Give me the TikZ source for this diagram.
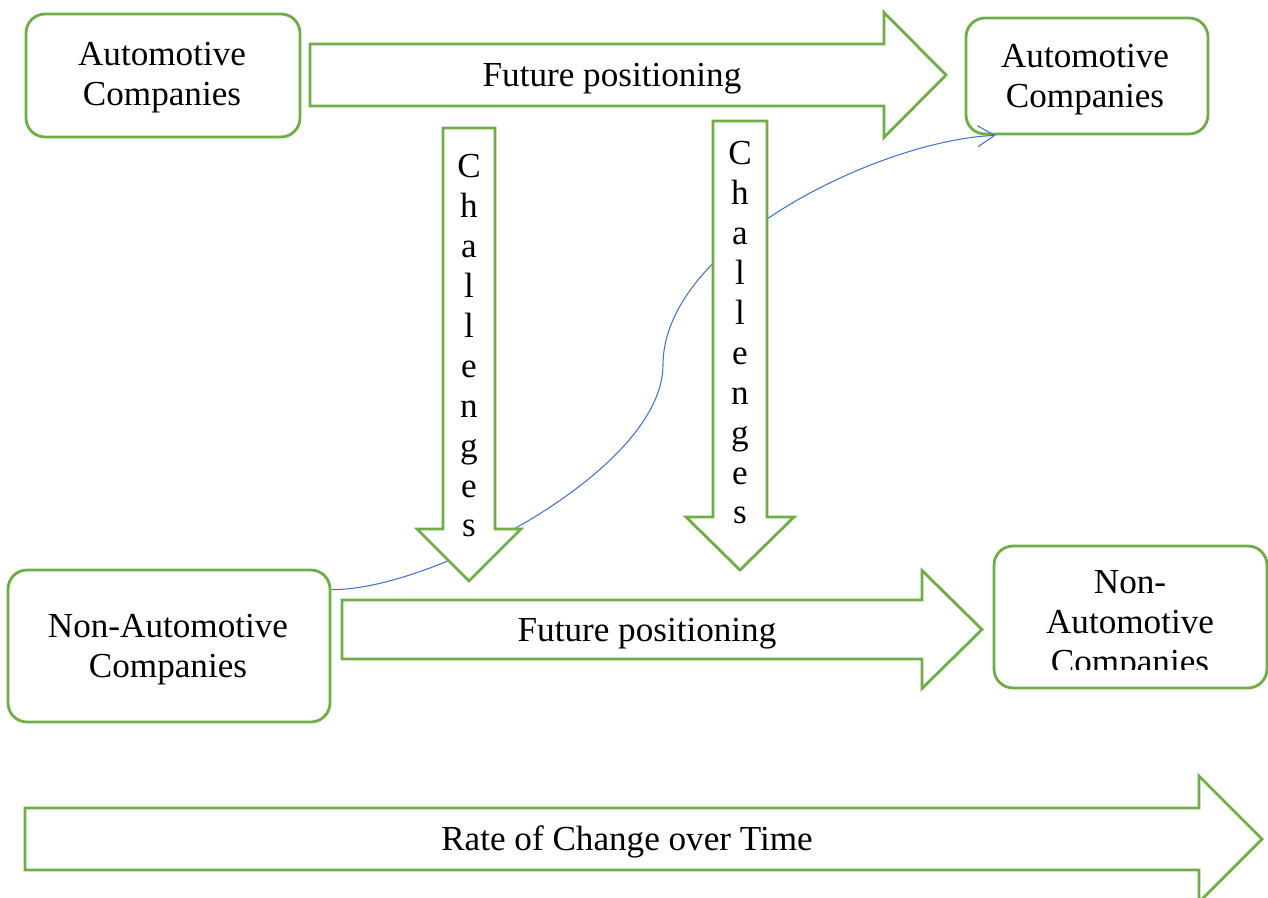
\documentclass[tikz,border=0pt]{standalone}
\usepackage{fontspec}
\setmainfont{Liberation Serif}
\usetikzlibrary{arrows.meta}
\usetikzlibrary{positioning}
\definecolor{boxgreen}{HTML}{70AD47}
\definecolor{linkblue}{HTML}{4472C4}

\begin{document}
\begin{tikzpicture}[
			% one unit = one pixel of the page, y pointing down
			x=0.02cm, y=-0.02cm,
			line join=miter,
			txt/.style={font=\fontsize{20}{22.7}\selectfont, align=center, inner sep=0pt},
			box/.style={draw=boxgreen, line width=1.6pt, rounded corners=0.38cm, fill=white},
			blockarrow/.style={draw=boxgreen, line width=1.6pt, fill=white},
			link/.style={draw=linkblue, line width=0.6pt, -{Straight Barb[length=0.34cm, width=0.42cm]}}
		]

		\useasboundingbox (0,0) rectangle (1268,898);

		%-------------------
		% Block arrow macros
		%-------------------
		\newcommand{\blockright}[6]{% x0, xbase, xtip, ymid, shaft half, head half
			\draw[blockarrow] (#1,#4-#5) -- (#2,#4-#5) -- (#2,#4-#6) -- (#3,#4)
			-- (#2,#4+#6) -- (#2,#4+#5) -- (#1,#4+#5) -- cycle;
		}
		\newcommand{\blockdown}[6]{% xmid, y0, ybase, ytip, shaft half, head half
			\draw[blockarrow] (#1-#5,#2) -- (#1+#5,#2) -- (#1+#5,#3) -- (#1+#6,#3)
			-- (#1,#4) -- (#1-#6,#3) -- (#1-#5,#3) -- cycle;
		}

		%-------------------
		% Company boxes
		%-------------------
		\node[box, minimum width=5.48cm, minimum height=2.46cm] (autoL) at (163,75.5) {};
		\node[box, minimum width=4.84cm, minimum height=2.32cm] (autoR) at (1087,76) {};
		\node[box, minimum width=6.44cm, minimum height=3.04cm] (nonautoL) at (169,646) {};
		\node[box, minimum width=5.46cm, minimum height=2.84cm] (nonautoR) at (1130.5,617) {};

		\node[txt] (autoLtext) at (162,78) {Automotive\\Companies};
		\node[txt] (autoRtext) at (1085,80) {Automotive\\Companies};
		\node[txt] (nonautoLtext) at (168,650) {Non-Automotive\\Companies};
		\begin{scope}
			\clip (994,546) rectangle (1267,669);
			\node[txt] (nonautoRtext) at (1130,626) {Non-\\Automotive\\Companies};
		\end{scope}

		%-------------------
		% Link between the groups (behind the arrows)
		%-------------------
		\coordinate (cstart) at ([yshift=-0.42cm]nonautoL.north east);
		\coordinate (cend) at ([xshift=0.62cm]autoR.south west);
		\draw[link] (cstart) .. controls (430,591) and (663,470) .. (663,365)
		.. controls (663,245) and (880,140) .. (cend);

		%-------------------
		% Future positioning
		%-------------------
		\blockright{310}{884}{946}{75}{31}{62.5}
		\node[txt] (futureTop) at (612,79) {Future positioning};

		\blockright{342}{922}{982}{629.5}{29.5}{59}
		\node[txt] (futureBottom) at (647,634) {Future positioning};

		%-------------------
		% Challenges
		%-------------------
		\blockdown{469}{128}{529}{581}{26}{52}
		\node[txt] (challengesA) at (469,346) {C\\h\\a\\l\\l\\e\\n\\g\\e\\s};

		\blockdown{740}{121}{517}{570}{27}{54}
		\node[txt] (challengesB) at (740,333) {C\\h\\a\\l\\l\\e\\n\\g\\e\\s};

		%-------------------
		% Time axis
		%-------------------
		\blockright{25}{1199}{1262}{839}{31}{63}
		\node[txt] (rate) at (627,842) {Rate of Change over Time};

	\end{tikzpicture}
\end{document}
